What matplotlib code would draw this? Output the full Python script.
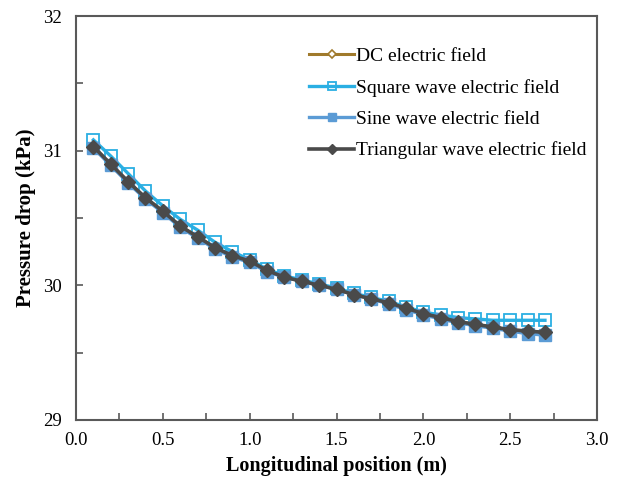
import numpy as np
import matplotlib
matplotlib.use("Agg")
import matplotlib.pyplot as plt
from matplotlib.ticker import MultipleLocator, FormatStrFormatter

plt.rcParams['font.family'] = ['Liberation Serif', 'DejaVu Serif']

# longitudinal position (m)
x = [0.1, 0.2, 0.3, 0.4, 0.5, 0.6, 0.7, 0.8, 0.9, 1.0,
     1.1, 1.2, 1.3, 1.4, 1.5, 1.6, 1.7, 1.8, 1.9, 2.0,
     2.1, 2.2, 2.3, 2.4, 2.5, 2.6, 2.7]

# pressure drop (kPa) for each field type
dc = [31.03, 30.90, 30.77, 30.65, 30.55, 30.44, 30.36, 30.28, 30.22, 30.18,
      30.11, 30.06, 30.03, 30.00, 29.97, 29.93, 29.90, 29.87, 29.83, 29.79,
      29.76, 29.73, 29.71, 29.69, 29.67, 29.66, 29.65]
square = [31.08, 30.96, 30.83, 30.70, 30.59, 30.49, 30.41, 30.32, 30.25, 30.19,
          30.12, 30.07, 30.04, 30.01, 29.98, 29.94, 29.91, 29.88, 29.84, 29.80,
          29.78, 29.76, 29.75, 29.74, 29.74, 29.74, 29.74]
sine = [31.02, 30.89, 30.76, 30.64, 30.54, 30.43, 30.35, 30.27, 30.21, 30.17,
        30.10, 30.06, 30.03, 30.00, 29.97, 29.93, 29.90, 29.86, 29.82, 29.78,
        29.75, 29.72, 29.70, 29.68, 29.66, 29.64, 29.63]
triangular = [31.03, 30.90, 30.77, 30.65, 30.55, 30.44, 30.36, 30.28, 30.22, 30.18,
              30.11, 30.06, 30.03, 30.00, 29.97, 29.93, 29.90, 29.87, 29.83, 29.79,
              29.76, 29.73, 29.71, 29.69, 29.67, 29.66, 29.65]

labels = ['DC electric field', 'Square wave electric field',
          'Sine wave electric field', 'Triangular wave electric field']

fig = plt.figure(figsize=(6.2, 4.86), dpi=100)
ax = fig.add_axes([0.1226, 0.136, 0.8404, 0.831])

ax.plot(x, dc, color='#A07A2C', lw=2.2, marker='D', ms=5, mfc='white',
        mec='#A07A2C', mew=1.2, label=labels[0])
ax.plot(x, square, color='#2AAFE3', lw=2.4, marker='s', ms=8, mfc='none',
        mec='#2AAFE3', mew=1.3, label=labels[1])
ax.plot(x, sine, color='#5B9BD5', lw=2.4, marker='s', ms=8, mfc='#5B9BD5',
        mec='#5B9BD5', label=labels[2])
ax.plot(x, triangular, color='#4A4A4A', lw=2.6, marker='D', ms=7, mfc='#4A4A4A',
        mec='#4A4A4A', label=labels[3])

ax.set_xlim(0, 3.0)
ax.set_ylim(29, 32)
ax.xaxis.set_major_locator(MultipleLocator(0.5))
ax.xaxis.set_minor_locator(MultipleLocator(0.25))
ax.yaxis.set_major_locator(MultipleLocator(1))
ax.yaxis.set_minor_locator(MultipleLocator(0.5))
ax.xaxis.set_major_formatter(FormatStrFormatter('%.1f'))

for s in ax.spines.values():
    s.set_color('#595959')
    s.set_linewidth(1.5)
ax.tick_params(which='both', direction='in', color='#595959', width=1.2,
               length=5, labelsize=13.5, top=False, right=False)
ax.tick_params(axis='x', pad=9)
ax.tick_params(axis='y', pad=10)

ax.set_xlabel('Longitudinal position (m)', fontsize=14.5, fontweight='bold', labelpad=5)
ax.set_ylabel('Pressure drop (kPa)', fontsize=15, fontweight='bold', labelpad=5)

ax.legend(loc='upper right', bbox_to_anchor=(1.013, 0.965), frameon=False,
          fontsize=14, handlelength=2.3, handletextpad=0.1, labelspacing=0.7,
          markerscale=0.8)

fig.savefig('out.png', dpi=100)
